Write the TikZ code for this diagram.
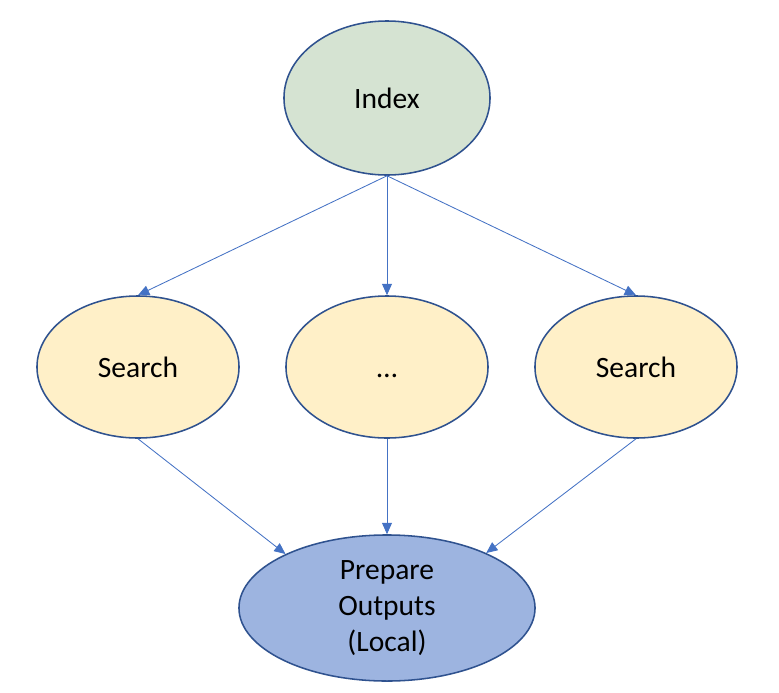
\documentclass[tikz,border=0pt]{standalone}
\usepackage{fontspec}
\setmainfont{Carlito}
\usetikzlibrary{arrows.meta, shapes.geometric}
\definecolor{edgeblue}{HTML}{2F528F}
\definecolor{arrowblue}{HTML}{4472C4}
\definecolor{idxgreen}{HTML}{D5E3D2}
\definecolor{srchyellow}{HTML}{FFF0C8}
\definecolor{prepblue}{HTML}{9DB4E0}

\begin{document}
\begin{tikzpicture}[x=0.025cm, y=-0.025cm, >={Triangle[length=8pt,width=7pt]},
    blob/.style={ellipse, draw=edgeblue, line width=1.1pt, inner sep=0pt,
        font=\fontsize{21}{25.6}\selectfont, align=center},
    flow/.style={->, draw=arrowblue, line width=0.6pt}]
        \useasboundingbox (0,0) rectangle (779,693);
        \node[blob, fill=idxgreen, minimum width=5.15cm, minimum height=3.85cm] (I) at (387,98) {Index};
        \node[blob, fill=srchyellow, minimum width=5.05cm, minimum height=3.55cm] (S1) at (138,367) {Search};
        \node[blob, fill=srchyellow, minimum width=5.05cm, minimum height=3.55cm] (S2) at (387,367) {\vphantom{Sh}\dots};
        \node[blob, fill=srchyellow, minimum width=5.05cm, minimum height=3.55cm] (S3) at (636,367) {Search};
        \node[blob, fill=prepblue, minimum width=7.4cm, minimum height=3.65cm] (P) at (387,608) {Prepare\\Outputs\\(Local)};
        \draw[flow] (I.south) -- (S1.north);
        \draw[flow] (I.south) -- (S2.north);
        \draw[flow] (I.south) -- (S3.north);
        \draw[flow] (S1.south) -- (P.152);
        \draw[flow] (S2.south) -- (P.north);
        \draw[flow] (S3.south) -- (P.29);
    \end{tikzpicture}
\end{document}
